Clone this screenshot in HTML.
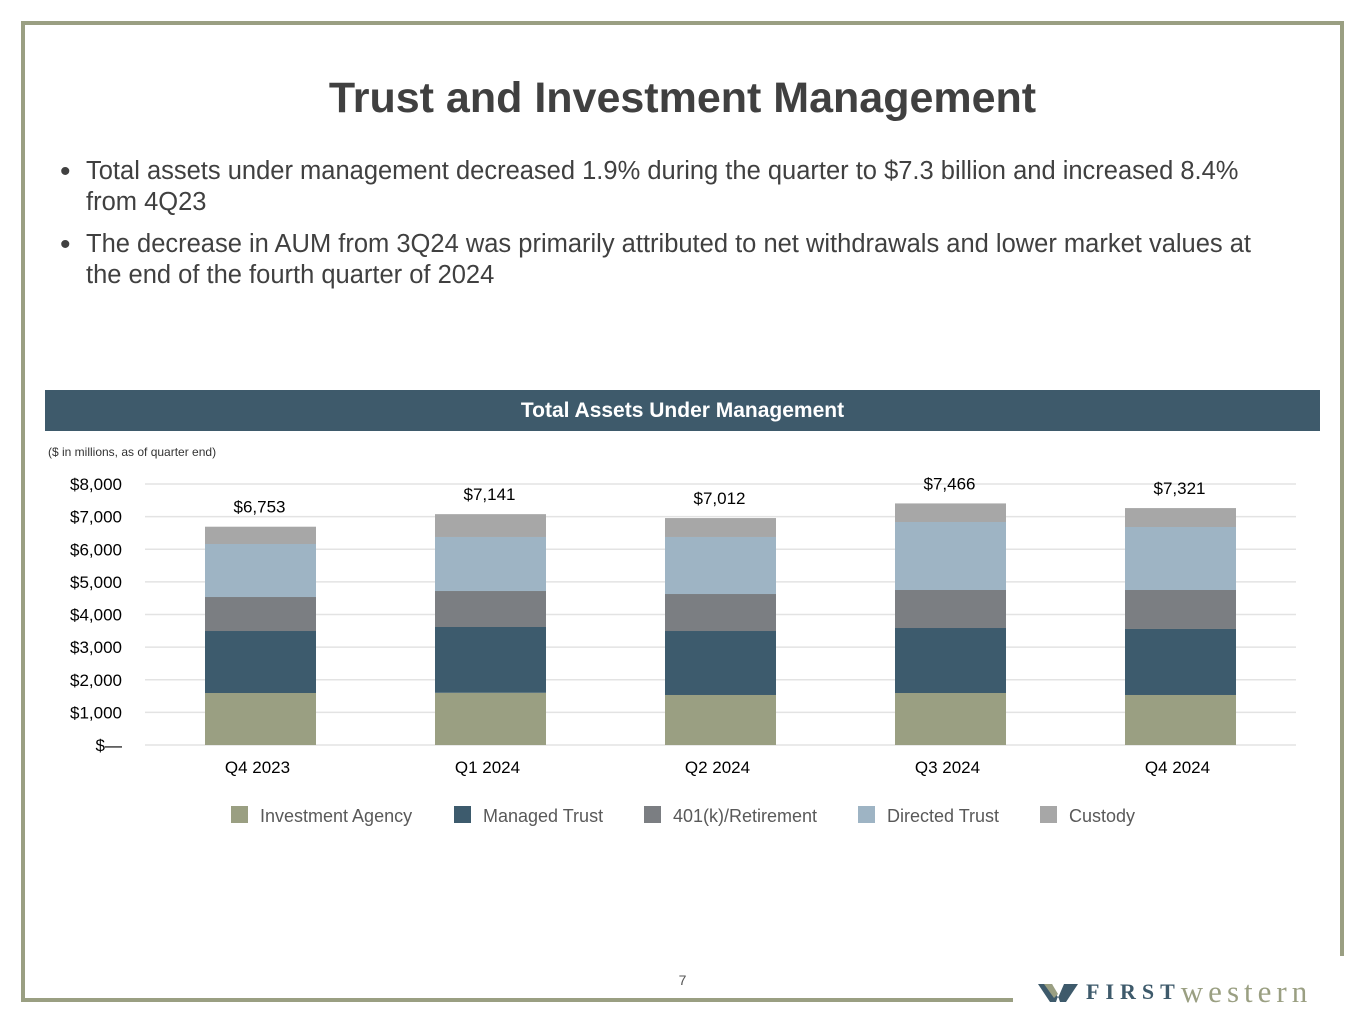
<!DOCTYPE html>
<html><head><meta charset="utf-8"><style>
body{margin:0;width:1365px;height:1024px;background:#fff;position:relative;font-family:"Liberation Sans",sans-serif;overflow:hidden}
.abs{position:absolute}
</style></head><body>
<div class="abs" style="left:22px;top:21px;width:1322px;height:4px;background:#9a9f82"></div>
<div class="abs" style="left:21px;top:21px;width:4px;height:981px;background:#9a9f82"></div>
<div class="abs" style="left:1340px;top:21px;width:4px;height:935px;background:#9a9f82"></div>
<div class="abs" style="left:21px;top:998px;width:992px;height:4px;background:#9a9f82"></div>
<div class="abs" style="left:0;width:1365px;top:74px;text-align:center;font-size:43px;font-weight:bold;color:#404040">Trust and Investment Management</div>
<div class="abs" style="left:62px;top:156px;width:1290px;font-size:25.5px;color:#404040;line-height:31px;white-space:nowrap">
<div style="padding-left:24px;position:relative;margin-bottom:11px"><span style="position:absolute;left:-2px;font-size:30px">•</span>Total assets under management decreased 1.9% during the quarter to $7.3 billion and increased 8.4%<br>from 4Q23</div>
<div style="padding-left:24px;position:relative"><span style="position:absolute;left:-2px;font-size:30px">•</span>The decrease in AUM from 3Q24 was primarily attributed to net withdrawals and lower market values at<br>the end of the fourth quarter of 2024</div>
</div>
<div class="abs" style="left:45px;top:390px;width:1275px;height:41px;background:#3e5a6b;color:#fff;font-weight:bold;font-size:21px;text-align:center;line-height:41px">Total Assets Under Management</div>
<div class="abs" style="left:48px;top:445px;font-size:12px;color:#333">($ in millions, as of quarter end)</div>
<svg class="abs" style="left:0;top:0" width="1365" height="1024" id="chart"></svg>
<div class="abs" style="left:0;width:1365px;top:972px;text-align:center;font-size:14px;color:#555">7</div>
<div class="abs" style="left:1038px;top:974px;height:30px;white-space:nowrap">
<svg width="48" height="24" style="vertical-align:middle"><path d="M0 4 L14 4 L20 18 L26 4 L40 4 L28 22 L22 22 L20 16 L18 22 L12 22 Z" fill="#3e5a6b"/><path d="M6 4 L14 4 L20 14 L16 18 Z" fill="#9a9f82"/></svg><span style="font-family:'Liberation Serif',serif;font-weight:bold;font-size:22px;color:#3e5a6b;letter-spacing:6px;vertical-align:middle">FIRST</span><span style="font-family:'Liberation Serif',serif;font-size:31px;color:#9a9f82;letter-spacing:5px;vertical-align:middle">western</span>
</div>
<script>
const categories=["Q4 2023","Q1 2024","Q2 2024","Q3 2024","Q4 2024"];
const investmentAgency=[1594,1600,1533,1594,1533];
const managedTrust=[1900,2017,1961,1992,2023];
const retirement401k=[1042,1103,1134,1165,1195];
const directedTrust=[1625,1656,1748,2084,1931];
const custody=[530,700,580,570,580];
const totals=["$6,753","$7,141","$7,012","$7,466","$7,321"];
const yTicks=[0,1000,2000,3000,4000,5000,6000,7000,8000];
const yTickLabels=["$—","$1,000","$2,000","$3,000","$4,000","$5,000","$6,000","$7,000","$8,000"];
const seriesNames=["Investment Agency","Managed Trust","401(k)/Retirement","Directed Trust","Custody"];
const colors=["#9a9f82","#3d5b6d","#7b7e82","#9eb4c4","#a7a7a7"];
const series=[investmentAgency,managedTrust,retirement401k,directedTrust,custody];
const svg=document.getElementById('chart');const NS="http://www.w3.org/2000/svg";
const y0=745,y1=484,xL=145,xR=1296,bw=111;
const y=v=>y0-(v/8000)*(y0-y1);
const xc=i=>260.5+i*230;
function mk(t,a){const e=document.createElementNS(NS,t);for(const k in a)e.setAttribute(k,a[k]);svg.appendChild(e);return e;}
yTicks.forEach((t,i)=>{const g=mk('line',{x1:xL,x2:xR,y1:y(t),y2:y(t),stroke:'#e3e3e3','stroke-width':1.5});


const l=mk('text',{x:122,y:y(t)+6,'text-anchor':'end','font-size':17,fill:'#000','font-family':'Liberation Sans'});l.textContent=yTickLabels[i];

});
categories.forEach((c,i)=>{let cum=0;
series.forEach((s,j)=>{const r=mk('rect',{x:xc(i)-bw/2,y:y(cum+s[i]),width:bw,height:y(cum)-y(cum+s[i]),fill:colors[j]});


cum+=s[i];});
const tl=mk('text',{x:xc(i)-1,y:y(cum)-14,'text-anchor':'middle','font-size':17,fill:'#000','font-family':'Liberation Sans'});tl.textContent=totals[i];


const xl=mk('text',{x:xc(i)-3,y:773,'text-anchor':'middle','font-size':17,fill:'#000','font-family':'Liberation Sans'});xl.textContent=c;

});
const lx=[231,454,644,858,1040];
seriesNames.forEach((n,j)=>{const r=mk('rect',{x:lx[j],y:806,width:17,height:17,fill:colors[j]});


const t=mk('text',{x:lx[j]+29,y:822,'font-size':18,fill:'#595959','font-family':'Liberation Sans'});t.textContent=n;

});
</script>
</body></html>
